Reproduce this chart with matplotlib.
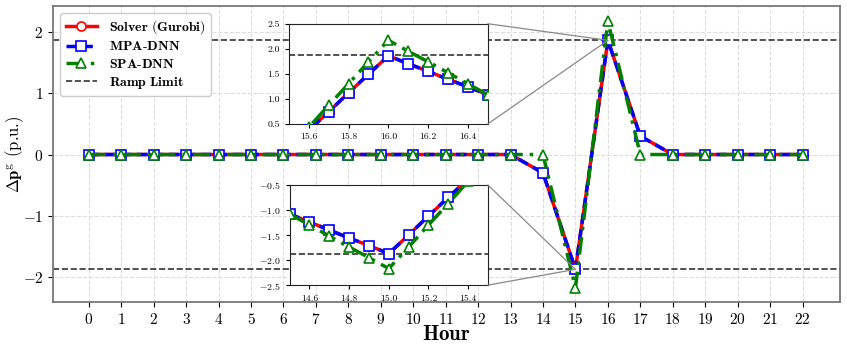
import matplotlib
matplotlib.use("Agg")
import matplotlib.pyplot as plt
from matplotlib.patches import ConnectionPatch

plt.rcParams['font.family'] = 'serif'
plt.rcParams['font.serif'] = ['cmr10', 'DejaVu Serif']
plt.rcParams['mathtext.fontset'] = 'cm'
plt.rcParams['axes.formatter.use_mathtext'] = True

hours = list(range(23))
solver = [0]*14 + [-0.30, -1.87, 1.86, 0.30] + [0]*5
mpa = [0]*14 + [-0.30, -1.87, 1.86, 0.30] + [0]*5
spa = [0]*15 + [-2.17, 2.17] + [0]*6
ramp_limit = 1.87

# inset (upper) samples
up_x = [15.5, 15.6, 15.7, 15.8, 15.9, 16.0, 16.1, 16.2, 16.3, 16.4, 16.5]
up_solver = [0.0, 0.37, 0.74, 1.12, 1.49, 1.86, 1.70, 1.55, 1.39, 1.24, 1.08]
up_mpa = [0.0, 0.37, 0.74, 1.12, 1.49, 1.86, 1.70, 1.55, 1.39, 1.24, 1.08]
up_spa = [0.0, 0.43, 0.87, 1.30, 1.74, 2.17, 1.95, 1.74, 1.52, 1.30, 1.08]
# inset (lower) samples
lo_x = [14.5, 14.6, 14.7, 14.8, 14.9, 15.0, 15.1, 15.2, 15.3, 15.4, 15.5]
lo_solver = [-1.08, -1.24, -1.40, -1.56, -1.71, -1.87, -1.50, -1.12, -0.75, -0.38, 0.0]
lo_mpa = [-1.08, -1.24, -1.40, -1.56, -1.71, -1.87, -1.50, -1.12, -0.75, -0.38, 0.0]
lo_spa = [-1.08, -1.30, -1.52, -1.74, -1.95, -2.17, -1.74, -1.30, -0.87, -0.43, 0.0]

fig = plt.figure(figsize=(8.47, 3.49), dpi=100)
ax = fig.add_axes([0.0626, 0.135, 0.929, 0.848])

def draw(a, x, s, m, p, ms=6.5, lw=2.5, label=True):
    a.plot(x, s, color='red', lw=lw, marker='o', ms=ms, mfc='white', mec='red',
           mew=1.2, label=r'$\mathbf{Solver\ (Gurobi)}$' if label else None, zorder=3)
    a.plot(x, m, color='blue', lw=lw, ls=(0, (3, 1.6)), marker='s', ms=ms, mfc='white', mec='blue',
           mew=1.2, label=r'$\mathbf{MPA}$-$\mathbf{DNN}$' if label else None, zorder=4)
    a.plot(x, p, color='green', lw=lw, ls=(0, (5, 2, 1, 2)), marker='^', ms=ms, mfc='white',
           mec='green', mew=1.2, label=r'$\mathbf{SPA}$-$\mathbf{DNN}$' if label else None, zorder=5)
    a.axhline(ramp_limit, color='#333333', ls='--', lw=1.2,
              label=r'$\mathbf{Ramp\ Limit}$' if label else None, zorder=2)
    a.axhline(-ramp_limit, color='#333333', ls='--', lw=1.2, zorder=2)

draw(ax, hours, solver, mpa, spa)
ax.set_xlim(-1.1, 23.15)
ax.set_ylim(-2.4, 2.42)
ax.set_xticks(hours)
ax.set_yticks([-2, -1, 0, 1, 2])
ax.tick_params(labelsize=11)
ax.grid(True, ls='--', color='#dddddd', lw=0.8)
for sp in ax.spines.values():
    sp.set_color('#777777')
    sp.set_linewidth(1.3)
ax.set_xlabel(r'$\mathbf{Hour}$', fontsize=15, labelpad=-1)
ax.set_ylabel(r'$\Delta\mathbf{p}^{\mathrm{g}}$ (p.u.)', fontsize=12, labelpad=0)
ax.yaxis.set_label_coords(-0.034, 0.5)
leg = ax.legend(loc='upper left', fontsize=10, framealpha=1, edgecolor='#cccccc',
                handlelength=2.3, borderpad=0.4, labelspacing=0.3)
leg.set_zorder(10)

def inset(rect, x, s, m, p, xlim, ylim, xt, target, corner_y):
    ia = fig.add_axes(rect)
    draw(ia, x, s, m, p, ms=6.5, lw=2.5, label=False)
    ia.set_xlim(*xlim)
    ia.set_ylim(*ylim)
    ia.set_xticks(xt)
    ia.set_yticks([ylim[0] + 0.5*i for i in range(5)])
    ia.xaxis.set_major_formatter(matplotlib.ticker.FormatStrFormatter('%.1f'))
    ia.yaxis.set_major_formatter(matplotlib.ticker.FuncFormatter(
        lambda v, pos: ('$-$' if v < 0 else '') + '%.1f' % abs(v)))
    ia.tick_params(labelsize=7, length=3)
    ia.set_facecolor('white')
    for sp in ia.spines.values():
        sp.set_color('#222222')
    for cy in corner_y:
        con = ConnectionPatch(xyA=(1, cy), coordsA=ia.transAxes, xyB=target, coordsB=ax.transData,
                              color='#888888', lw=0.9)
        fig.add_artist(con)
    return ia

inset([0.341, 0.645, 0.235, 0.287], up_x, up_solver, up_mpa, up_spa, (15.5, 16.5), (0.5, 2.5),
      [15.6, 15.8, 16.0, 16.2, 16.4], (16, 1.86), [0, 1])
inset([0.342, 0.183, 0.234, 0.287], lo_x, lo_solver, lo_mpa, lo_spa, (14.5, 15.5), (-2.5, -0.5),
      [14.6, 14.8, 15.0, 15.2, 15.4], (15, -1.87), [0, 1])

fig.savefig('out.png', dpi=100)
